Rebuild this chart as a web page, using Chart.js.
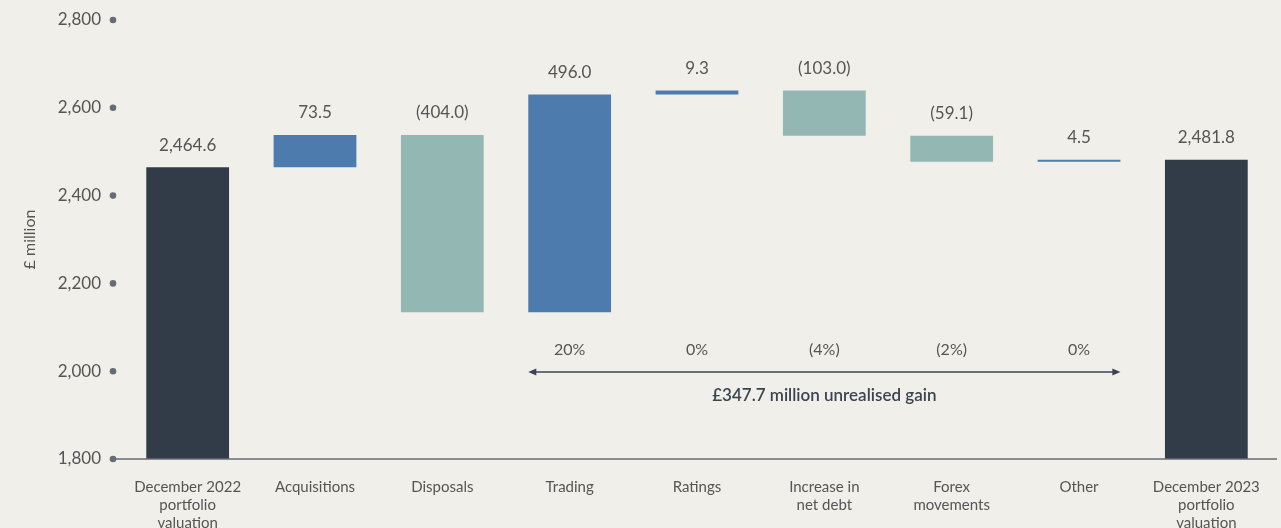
<!DOCTYPE html>
<html>
<head>
<meta charset="utf-8">
<script src="https://cdn.jsdelivr.net/npm/chart.js@4"></script>
<style>
  html, body { margin: 0; padding: 0; background: #f0efea; }
  #wrap { width: 1281px; height: 528px; }
</style>
</head>
<body>
<div id="wrap"><canvas id="chart" width="1281" height="528"></canvas></div>
<script>
// --- data ---
const categories = [
  ['December 2022', 'portfolio', 'valuation'],
  'Acquisitions',
  'Disposals',
  'Trading',
  'Ratings',
  ['Increase in', 'net debt'],
  ['Forex', 'movements'],
  'Other',
  ['December 2023', 'portfolio', 'valuation']
];
const openingValue = 2464.6;
const closingValue = 2481.8;
const movements = [73.5, -404.0, 496.0, 9.3, -103.0, -59.1, 4.5];
const valueLabels = ['2,464.6', '73.5', '(404.0)', '496.0', '9.3', '(103.0)', '(59.1)', '4.5', '2,481.8'];
const gainPct = [null, null, null, '20%', '0%', '(4%)', '(2%)', '0%', null];
const gainText = '£347.7 million unrealised gain';
const yTicks = [1800, 2000, 2200, 2400, 2600, 2800];
const yMin = 1800, yMax = 2800;

// colours
const cTotal = '#323c48';
const cUp = '#4d7bad';
const cDown = '#93b8b4';
const textCol = '#555555';
const axisCol = '#646c76';
const FONT = 'Lato, "Open Sans", sans-serif';

// floating ranges for the waterfall
const ranges = [[yMin, openingValue]];
const colors = [cTotal];
let running = openingValue;
movements.forEach(m => {
  const next = running + m;
  ranges.push([running, next]);
  colors.push(m >= 0 ? cUp : cDown);
  running = next;
});
ranges.push([yMin, closingValue]);
colors.push(cTotal);

// --- extra drawing: value labels, axis dots, gain arrow ---
const extras = {
  id: 'extras',
  afterDatasetsDraw(chart) {
    const ctx = chart.ctx;
    const area = chart.chartArea;
    const ys = chart.scales.y;
    const bars = chart.getDatasetMeta(0).data;
    ctx.save();

    // bottom axis line
    ctx.strokeStyle = axisCol;
    ctx.lineWidth = 1.5;
    ctx.beginPath();
    ctx.moveTo(area.left - 11, area.bottom);
    ctx.lineTo(chart.width - 4, area.bottom);
    ctx.stroke();

    // tick dots
    ctx.fillStyle = axisCol;
    yTicks.forEach(v => {
      ctx.beginPath();
      ctx.arc(area.left - 11, ys.getPixelForValue(v), 3.3, 0, Math.PI * 2);
      ctx.fill();
    });

    // value labels above bars
    ctx.fillStyle = textCol;
    ctx.font = '17px ' + FONT;
    ctx.textAlign = 'center';
    ctx.textBaseline = 'middle';
    bars.forEach((b, i) => {
      const top = Math.min(b.y, b.base);
      ctx.fillText(valueLabels[i], b.x, top - 22);
    });

    // percentage labels
    ctx.font = '16px ' + FONT;
    bars.forEach((b, i) => {
      if (gainPct[i]) ctx.fillText(gainPct[i], b.x, area.bottom - 109);
    });

    // arrow
    const first = gainPct.findIndex(p => p);
    const last = gainPct.length - 1 - [...gainPct].reverse().findIndex(p => p);
    const x0 = bars[first].x - bars[first].width / 2;
    const x1 = bars[last].x + bars[last].width / 2;
    const ay = area.bottom - 87;
    ctx.strokeStyle = '#3a4450';
    ctx.fillStyle = '#3a4450';
    ctx.lineWidth = 1.5;
    ctx.beginPath();
    ctx.moveTo(x0 + 4, ay);
    ctx.lineTo(x1 - 4, ay);
    ctx.stroke();
    ctx.beginPath();
    ctx.moveTo(x0, ay); ctx.lineTo(x0 + 8, ay - 3.5); ctx.lineTo(x0 + 8, ay + 3.5); ctx.closePath();
    ctx.fill();
    ctx.beginPath();
    ctx.moveTo(x1, ay); ctx.lineTo(x1 - 8, ay - 3.5); ctx.lineTo(x1 - 8, ay + 3.5); ctx.closePath();
    ctx.fill();

    ctx.fillStyle = '#3a4450';
    ctx.font = '600 17px ' + FONT;
    ctx.fillText(gainText, (x0 + x1) / 2, area.bottom - 63);

    ctx.restore();
  }
};

new Chart(document.getElementById('chart'), {
  type: 'bar',
  data: {
    labels: categories,
    datasets: [{
      data: ranges,
      backgroundColor: colors,
      borderWidth: 0,
      borderSkipped: false,
      categoryPercentage: 1,
      barPercentage: 0.65
    }]
  },
  options: {
    responsive: false,
    animation: false,
    layout: { padding: { top: 20, right: 11, left: 0, bottom: 0 } },
    plugins: {
      legend: { display: false },
      tooltip: { enabled: false }
    },
    scales: {
      x: {
        grid: { display: false, drawTicks: false },
        border: { display: false },
        ticks: {
          color: textCol,
          font: { family: FONT, size: 15 },
          padding: 19,
          maxRotation: 0,
          autoSkip: false
        },
        afterFit(scale) { scale.height = 69; }
      },
      y: {
        min: yMin,
        max: yMax,
        grid: { display: false, drawTicks: false },
        border: { display: false },
        afterBuildTicks(scale) { scale.ticks = yTicks.map(v => ({ value: v })); },
        ticks: {
          color: textCol,
          font: { family: FONT, size: 17 },
          padding: 23,
          callback: v => v.toLocaleString('en-US')
        },
        title: {
          display: true,
          text: '£ million',
          color: textCol,
          font: { family: FONT, size: 16 },
          padding: { top: 20, bottom: 0 }
        },
        afterFit(scale) {
          scale.width = 124;
          scale.paddingTop = 0;
          scale.paddingBottom = 0;
        }
      }
    }
  },
  plugins: [extras]
});
</script>
</body>
</html>
